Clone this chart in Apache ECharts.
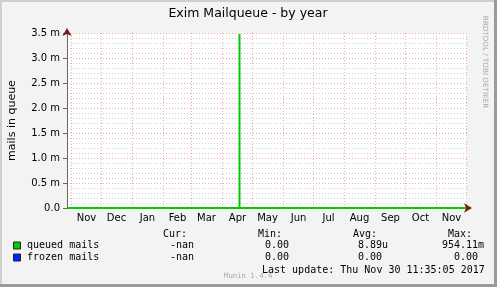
<!DOCTYPE html>
<html><head><meta charset="utf-8">
<script src="https://cdn.jsdelivr.net/npm/echarts@6/dist/echarts.min.js"></script>
<style>html,body{margin:0;padding:0;background:#f3f3f3}#c{width:497px;height:287px}</style>
</head><body><div id="c"></div>
<script>
// ---- data ----
const chartTitle = 'Exim Mailqueue - by year';
const yAxisName = 'mails in queue';
const rangeStart = '2016-10-27T12:00:00Z';
const rangeEnd = '2017-12-01T12:00:00Z';
const monthStarts = ['2016-11-01','2016-12-01','2017-01-01','2017-02-01','2017-03-01','2017-04-01','2017-05-01','2017-06-01','2017-07-01','2017-08-01','2017-09-01','2017-10-01','2017-11-01','2017-12-01'];
const monthMids = ['2016-11-16','2016-12-16','2017-01-16','2017-02-15','2017-03-16','2017-04-16','2017-05-16','2017-06-16','2017-07-16','2017-08-16','2017-09-16','2017-10-16','2017-11-16'];
const monthLabels = ['Nov','Dec','Jan','Feb','Mar','Apr','May','Jun','Jul','Aug','Sep','Oct','Nov'];
const yMin = 0, yMax = 0.0035, yStep = 0.0005;
const queuedTimes = ['2016-10-27T12:00:00Z','2017-04-18T00:00:00Z','2017-04-18T00:00:00Z','2017-04-18T00:00:00Z','2017-11-30T11:35:05Z'];
const queuedValues = [0, 0, 0.00348, 0, 0];
const frozenTimes = ['2016-10-27T12:00:00Z','2017-11-30T11:35:05Z'];
const frozenValues = [0, 0];
const seriesNames = ['queued mails', 'frozen mails'];
const seriesColors = ['#00cc00', '#0022ff'];
const statHeaders = ['Cur:', 'Min:', 'Avg:', 'Max:'];
const queuedStats = ['  -nan', '  0.00', '  8.89u', '954.11m'];
const frozenStats = ['  -nan', '  0.00', '  0.00 ', '  0.00 '];
const lastUpdate = 'Last update: Thu Nov 30 11:35:05 2017';
const munin = 'Munin 1.4.4';
const rrdCredit = 'RRDTOOL / TOBI OETIKER';

// ---- chart ----
const ts = s => Date.parse(s);
const mids = monthMids.map(ts);
const zip = (a, b) => a.map((t, i) => [ts(t), b[i]]);
const chart = echarts.init(document.getElementById('c'), null, {renderer: 'canvas'});
const sans = 'DejaVu Sans';
const colX = [158, 253, 346, 442];
const graphic = [
  {type: 'rect', shape: {x: 0, y: 0, width: 497, height: 2}, style: {fill: '#cfcfcf'}, silent: true},
  {type: 'rect', shape: {x: 0, y: 0, width: 2, height: 287}, style: {fill: '#cfcfcf'}, silent: true},
  {type: 'rect', shape: {x: 494, y: 0, width: 3, height: 287}, style: {fill: '#9a9a9a'}, silent: true},
  {type: 'rect', shape: {x: 0, y: 284, width: 497, height: 3}, style: {fill: '#9a9a9a'}, silent: true},
  {type: 'text', x: 248, y: 14, style: {text: chartTitle, font: '12.5px "DejaVu Sans"', fill: '#000', textAlign: 'center', textVerticalAlign: 'middle'}},
  {type: 'text', x: 485, y: 62, rotation: -Math.PI / 2, style: {text: rrdCredit, font: '7.2px "DejaVu Sans"', fill: '#aaaaaa', textAlign: 'center', textVerticalAlign: 'middle'}},
  {type: 'text', x: 224, y: 276, style: {text: munin, font: '7.3px "DejaVu Sans Mono"', fill: '#aaaaaa', textVerticalAlign: 'middle'}},
  {type: 'text', x: 262, y: 270, style: {text: lastUpdate, font: '10px "DejaVu Sans Mono"', fill: '#000', textVerticalAlign: 'middle'}}
];
statHeaders.forEach((h, i) => {
  graphic.push({type: 'text', x: [163, 258, 353, 448][i], y: 234, style: {text: h, font: '10px "DejaVu Sans Mono"', fill: '#000', textVerticalAlign: 'middle'}});
});
[queuedStats, frozenStats].forEach((row, r) => {
  const y = 245.5 + r * 12;
  graphic.push({type: 'rect', shape: {x: 13.5, y: y - 3.5, width: 7, height: 7}, style: {fill: seriesColors[r], stroke: '#222', lineWidth: 1}});
  graphic.push({type: 'text', x: 27, y: y, style: {text: seriesNames[r], font: '10px "DejaVu Sans Mono"', fill: '#000', textVerticalAlign: 'middle'}});
  row.forEach((s, i) => {
    graphic.push({type: 'text', x: colX[i], y: y, style: {text: s, font: '10px "DejaVu Sans Mono"', fill: '#000', textVerticalAlign: 'middle'}});
  });
});

chart.setOption({
  backgroundColor: '#f3f3f3',
  animation: false,
  grid: {left: 67, top: 33, width: 400, height: 175, show: true, backgroundColor: '#ffffff', borderWidth: 0,
    containLabel: false, outerBoundsMode: 'none'},
  xAxis: [{
    type: 'value', min: ts(rangeStart), max: ts(rangeEnd),
    axisLine: {show: true, lineStyle: {color: '#666'}},
    axisTick: {show: false, customValues: monthStarts.map(ts)},
    splitLine: {show: true, lineStyle: {color: '#f0a8a8', type: [1, 2], width: 1}},
    axisLabel: {customValues: mids, formatter: v => monthLabels[mids.indexOf(v)], fontFamily: sans, fontSize: 10, color: '#000', margin: 5}
  }, {
    type: 'value', min: ts(rangeStart), max: ts(rangeEnd), position: 'bottom',
    axisLine: {show: true, symbol: ['none', 'arrow'], symbolSize: [7, 8], symbolOffset: [0, 5], lineStyle: {color: '#7a1a1a', width: 0}},
    axisTick: {show: false}, axisLabel: {show: false}, splitLine: {show: false}
  }],
  yAxis: [{
    type: 'value', min: yMin, max: yMax, interval: yStep,
    name: yAxisName, nameLocation: 'middle', nameGap: 49,
    nameTextStyle: {fontFamily: sans, fontSize: 11, color: '#000'},
    axisLine: {show: true, lineStyle: {color: '#666'}},
    axisTick: {show: true, length: 4, lineStyle: {color: '#666'}},
    axisLabel: {fontFamily: sans, fontSize: 10, color: '#000', margin: 7,
      formatter: v => v === 0 ? '0.0' : (v * 1000).toFixed(1) + ' m'},
    splitLine: {show: true, lineStyle: {color: '#f0a8a8', type: [1, 2]}},
    minorTick: {show: false, splitNumber: 5},
    minorSplitLine: {show: true, lineStyle: {color: '#d0d0d0', type: [1, 2]}}
  }, {
    type: 'value', min: yMin, max: yMax, interval: yStep, position: 'left',
    axisLine: {show: true, symbol: ['none', 'arrow'], symbolSize: [7, 8], symbolOffset: [0, 5], lineStyle: {color: '#7a1a1a', width: 0}},
    axisTick: {show: false}, axisLabel: {show: false}, splitLine: {show: false}
  }],
  series: [{
    name: seriesNames[1], type: 'line', data: zip(frozenTimes, frozenValues),
    symbol: 'none', lineStyle: {color: seriesColors[1], width: 2}, z: 3
  }, {
    name: seriesNames[0], type: 'line', data: zip(queuedTimes, queuedValues),
    symbol: 'none', lineStyle: {color: seriesColors[0], width: 2}, z: 4
  }],
  graphic: graphic
});
</script></body></html>
